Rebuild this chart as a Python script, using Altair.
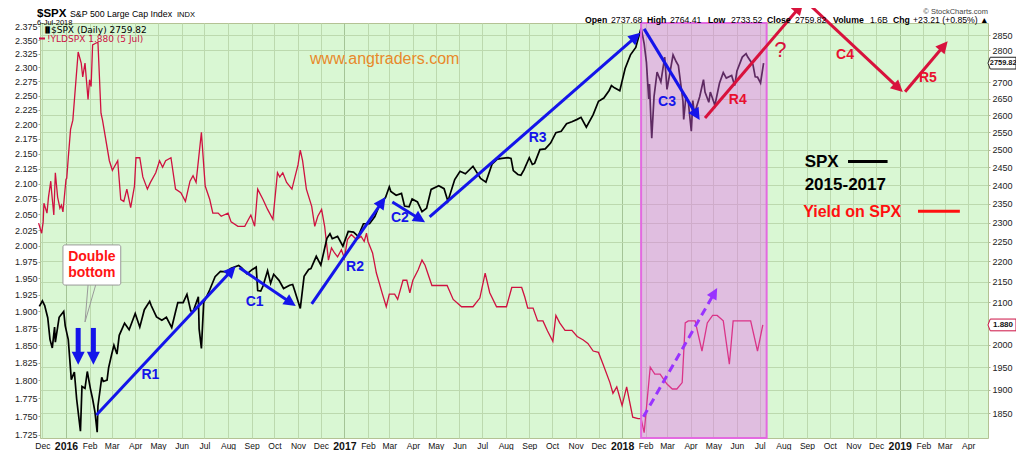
import math
import altair as alt
import pandas as pd

# ---------------- data ----------------
spx_dates = [
    "2015-11-27", "2015-12-01", "2015-12-04", "2015-12-08", "2015-12-11", "2015-12-14", "2015-12-17",
    "2015-12-18", "2015-12-23", "2015-12-29", "2015-12-31", "2016-01-04", "2016-01-08", "2016-01-12",
    "2016-01-15", "2016-01-20", "2016-01-22", "2016-01-26", "2016-01-29", "2016-02-02", "2016-02-05",
    "2016-02-08", "2016-02-11", "2016-02-12", "2016-02-17", "2016-02-19", "2016-02-24", "2016-02-26",
    "2016-03-01", "2016-03-04", "2016-03-08", "2016-03-11", "2016-03-18", "2016-03-24", "2016-04-01",
    "2016-04-07", "2016-04-13", "2016-04-20", "2016-04-22", "2016-04-29", "2016-05-06", "2016-05-12",
    "2016-05-19", "2016-05-24", "2016-05-27", "2016-06-03", "2016-06-08", "2016-06-13", "2016-06-16",
    "2016-06-23", "2016-06-24", "2016-06-27", "2016-06-30", "2016-07-08", "2016-07-15", "2016-07-22",
    "2016-07-29", "2016-08-05", "2016-08-15", "2016-08-19", "2016-08-26", "2016-09-02", "2016-09-07",
    "2016-09-09", "2016-09-13", "2016-09-16", "2016-09-22", "2016-09-26", "2016-09-30", "2016-10-07",
    "2016-10-13", "2016-10-21", "2016-10-25", "2016-10-28", "2016-11-04", "2016-11-09", "2016-11-15",
    "2016-11-18", "2016-11-25", "2016-12-01", "2016-12-09", "2016-12-13", "2016-12-16", "2016-12-23",
    "2016-12-30", "2017-01-06", "2017-01-13", "2017-01-19", "2017-01-26", "2017-02-03", "2017-02-10",
    "2017-02-17", "2017-02-24", "2017-03-01", "2017-03-03", "2017-03-10", "2017-03-17", "2017-03-21",
    "2017-03-27", "2017-03-31", "2017-04-07", "2017-04-13", "2017-04-19", "2017-04-25", "2017-05-05",
    "2017-05-12", "2017-05-17", "2017-05-26", "2017-06-02", "2017-06-09", "2017-06-19", "2017-06-29",
    "2017-07-06", "2017-07-14", "2017-07-21", "2017-07-27", "2017-08-04", "2017-08-08", "2017-08-11",
    "2017-08-17", "2017-08-21", "2017-08-25", "2017-09-01", "2017-09-05", "2017-09-08", "2017-09-15",
    "2017-09-22", "2017-09-29", "2017-10-06", "2017-10-13", "2017-10-20", "2017-10-27", "2017-11-03",
    "2017-11-08", "2017-11-15", "2017-11-24", "2017-12-01", "2017-12-08", "2017-12-15", "2017-12-18",
    "2017-12-22", "2017-12-29", "2018-01-05", "2018-01-12", "2018-01-19", "2018-01-26", "2018-01-30",
    "2018-02-02", "2018-02-05", "2018-02-06", "2018-02-08", "2018-02-09", "2018-02-12", "2018-02-16",
    "2018-02-21", "2018-02-26", "2018-03-01", "2018-03-02", "2018-03-09", "2018-03-13", "2018-03-16",
    "2018-03-22", "2018-03-23", "2018-03-26", "2018-03-29", "2018-04-02", "2018-04-04", "2018-04-06",
    "2018-04-13", "2018-04-18", "2018-04-20", "2018-04-25", "2018-04-27", "2018-05-03", "2018-05-09",
    "2018-05-14", "2018-05-18", "2018-05-25", "2018-05-29", "2018-06-01", "2018-06-08", "2018-06-13",
    "2018-06-15", "2018-06-22", "2018-06-25", "2018-06-28", "2018-07-02", "2018-07-06",
]
spx_close = [
    2090, 2103, 2092, 2063, 2012, 1993, 2041,
    2006, 2064, 2078, 2044, 2012, 1922, 1939,
    1880, 1812, 1907, 1903, 1940, 1903, 1880,
    1853, 1810, 1865, 1927, 1918, 1921, 1948,
    1978, 1999, 1979, 2022, 2050, 2035, 2073,
    2041, 2082, 2102, 2092, 2065, 2057, 2064,
    2040, 2077, 2099, 2099, 2119, 2079, 2077,
    2113, 2037, 1992, 2099, 2130, 2162, 2175,
    2174, 2183, 2190, 2184, 2169, 2180, 2186,
    2128, 2127, 2139, 2177, 2146, 2168, 2153,
    2133, 2141, 2143, 2126, 2085, 2163, 2180,
    2182, 2213, 2191, 2259, 2271, 2258, 2264,
    2239, 2277, 2275, 2264, 2297, 2297, 2316,
    2351, 2367, 2396, 2383, 2373, 2378, 2344,
    2342, 2363, 2355, 2329, 2338, 2389, 2399,
    2391, 2357, 2416, 2439, 2432, 2453, 2419,
    2409, 2459, 2473, 2475, 2477, 2475, 2441,
    2430, 2428, 2443, 2477, 2458, 2461, 2500,
    2502, 2519, 2549, 2553, 2575, 2581, 2588,
    2594, 2565, 2602, 2642, 2652, 2675, 2690,
    2683, 2674, 2743, 2786, 2810, 2873, 2822,
    2762, 2649, 2695, 2581, 2533, 2656, 2732,
    2701, 2779, 2678, 2691, 2786, 2765, 2752,
    2643, 2588, 2658, 2641, 2553, 2644, 2604,
    2656, 2708, 2670, 2639, 2670, 2630, 2697,
    2730, 2713, 2721, 2690, 2735, 2779, 2790,
    2780, 2755, 2717, 2716, 2698, 2760,
]

yld_dates = [
    "2015-11-26", "2015-11-30", "2015-12-02", "2015-12-03", "2015-12-07", "2015-12-09", "2015-12-12",
    "2015-12-13", "2015-12-16", "2015-12-18", "2015-12-21", "2015-12-24", "2015-12-26", "2015-12-28",
    "2016-01-01", "2016-01-02", "2016-01-04", "2016-01-07", "2016-01-10", "2016-01-17", "2016-01-21",
    "2016-01-23", "2016-01-26", "2016-01-30", "2016-02-01", "2016-02-03", "2016-02-05", "2016-02-09",
    "2016-02-12", "2016-02-16", "2016-02-18", "2016-02-27", "2016-03-02", "2016-03-09", "2016-03-13",
    "2016-03-17", "2016-03-21", "2016-03-26", "2016-03-31", "2016-04-02", "2016-04-07", "2016-04-11",
    "2016-04-17", "2016-04-21", "2016-04-28", "2016-05-03", "2016-05-07", "2016-05-11", "2016-05-18",
    "2016-05-24", "2016-05-31", "2016-06-06", "2016-06-12", "2016-06-16", "2016-06-20", "2016-06-27",
    "2016-06-30", "2016-07-02", "2016-07-08", "2016-07-12", "2016-07-19", "2016-07-23", "2016-08-01",
    "2016-08-05", "2016-08-14", "2016-08-23", "2016-08-31", "2016-09-05", "2016-09-09", "2016-09-16",
    "2016-09-22", "2016-09-29", "2016-10-05", "2016-10-08", "2016-10-12", "2016-10-17", "2016-10-24",
    "2016-10-28", "2016-11-01", "2016-11-04", "2016-11-07", "2016-11-12", "2016-11-19", "2016-11-23",
    "2016-11-27", "2016-12-02", "2016-12-06", "2016-12-09", "2016-12-11", "2016-12-15", "2016-12-19",
    "2016-12-23", "2016-12-28", "2017-01-01", "2017-01-05", "2017-01-10", "2017-01-17", "2017-01-23",
    "2017-01-27", "2017-01-30", "2017-02-01", "2017-02-07", "2017-02-12", "2017-02-16", "2017-02-20",
    "2017-02-25", "2017-03-01", "2017-03-08", "2017-03-12", "2017-03-19", "2017-03-24", "2017-03-28",
    "2017-04-01", "2017-04-08", "2017-04-13", "2017-04-17", "2017-04-26", "2017-05-16", "2017-05-24",
    "2017-06-04", "2017-06-19", "2017-06-28", "2017-07-05", "2017-07-11", "2017-07-20", "2017-08-02",
    "2017-08-09", "2017-08-22", "2017-08-26", "2017-08-30", "2017-09-06", "2017-09-12", "2017-09-19",
    "2017-09-25", "2017-10-02", "2017-10-06", "2017-10-11", "2017-10-18", "2017-10-27", "2017-11-03",
    "2017-11-11", "2017-11-17", "2017-11-24", "2017-12-01", "2017-12-07", "2017-12-16", "2017-12-20",
    "2017-12-25", "2018-01-01", "2018-01-07", "2018-01-15", "2018-01-22", "2018-01-26", "2018-01-30",
    "2018-02-07", "2018-02-13", "2018-02-20", "2018-03-01", "2018-03-08", "2018-03-14", "2018-03-21",
    "2018-03-25", "2018-03-29", "2018-04-07", "2018-04-16", "2018-04-23", "2018-04-30", "2018-05-06",
    "2018-05-14", "2018-05-22", "2018-05-27", "2018-06-19", "2018-06-28", "2018-07-05",
]
yld_values = [
    2.036, 2.020, 2.038, 2.068, 2.052, 2.078, 2.104,
    2.088, 2.049, 2.118, 2.078, 2.060, 2.065, 2.054,
    2.107, 2.109, 2.143, 2.191, 2.207, 2.328, 2.308,
    2.283, 2.308, 2.243, 2.278, 2.266, 2.341, 2.344,
    2.346, 2.219, 2.207, 2.138, 2.122, 2.138, 2.074,
    2.071, 2.091, 2.061, 2.096, 2.143, 2.143, 2.111,
    2.091, 2.102, 2.118, 2.138, 2.127, 2.138, 2.143,
    2.091, 2.085, 2.071, 2.104, 2.113, 2.102, 2.186,
    2.131, 2.096, 2.074, 2.052, 2.052, 2.047, 2.052,
    2.038, 2.031, 2.031, 2.049, 2.031, 2.091, 2.074,
    2.058, 2.042, 2.118, 2.111, 2.118, 2.102, 2.091,
    2.111, 2.131, 2.156, 2.138, 2.091, 2.063, 2.031,
    2.047, 2.058, 2.031, 1.999, 1.978, 1.997, 1.989,
    1.983, 1.994, 1.981, 2.010, 2.018, 2.010, 2.015,
    2.007, 2.020, 2.007, 1.989, 1.958, 1.942, 1.926,
    1.907, 1.926, 1.926, 1.918, 1.947, 1.947, 1.928,
    1.947, 1.963, 1.978, 1.970, 1.939, 1.939, 1.918,
    1.907, 1.907, 1.920, 1.958, 1.928, 1.907, 1.907,
    1.936, 1.936, 1.922, 1.905, 1.905, 1.886, 1.886,
    1.871, 1.856, 1.894, 1.883, 1.872, 1.872, 1.863,
    1.858, 1.853, 1.842, 1.840, 1.823, 1.797, 1.782,
    1.791, 1.765, 1.791, 1.749, 1.747, 1.747, 1.728,
    1.819, 1.809, 1.809, 1.795, 1.788, 1.788, 1.797,
    1.883, 1.886, 1.886, 1.842, 1.883, 1.894, 1.894,
    1.886, 1.823, 1.886, 1.886, 1.842, 1.880,
]

# annotation arrows: (start date, start SPX, tip date, tip SPX)
blue_arrows = [
    ("2016-02-10", 1846, "2016-08-11", 2188),
    ("2016-08-16", 2184, "2016-10-29", 2091),
    ("2016-11-19", 2096, "2017-02-24", 2368),
    ("2017-03-05", 2355, "2017-04-17", 2301),
    ("2017-04-23", 2315, "2018-01-25", 2857),
    ("2018-01-30", 2870, "2018-04-13", 2586),
]
red_arrows = [
    ("2018-04-20", 2592, "2018-08-27", 2956),
    ("2018-09-05", 2949, "2019-01-05", 2670),
    ("2019-01-08", 2671, "2019-03-05", 2830),
]
purple_arrows = [("2018-01-29", 1842, "2018-05-06", 2134)]
bottom_arrows = [
    ("2016-01-17", 2039, "2016-01-17", 1955),
    ("2016-02-06", 2039, "2016-02-06", 1955),
]

blue_labels = ["R1", "C1", "R2", "C2", "R3", "C3"]
blue_label_dates = ["2016-04-21", "2016-09-05", "2017-01-15", "2017-03-15", "2017-09-12", "2018-03-01"]
blue_label_values = [1932, 2100, 2186, 2312, 2534, 2640]
red_labels = ["R4", "C4", "R5"]
red_label_dates = ["2018-06-02", "2018-10-21", "2019-02-07"]
red_label_values = [2646, 2786, 2713]

pink_start, pink_end = "2018-01-26", "2018-07-10"
last_spx, last_yld = 2759.82, 1.880

# ---------------- geometry of the scales ----------------
W, H = 948, 415
T0 = pd.Timestamp("2015-11-27 20:00")
T1 = pd.Timestamp("2019-04-27 00:00")
SPX_LO, SPX_HI = 1798.0, 2889.4
YLD_LO, YLD_HI = 1.7207, 2.3815

FONT = "Liberation Sans"
BLUE = "#1414ea"
RED = "#d8123c"
PURPLE = "#9933ff"
HEAD = "M0,0 L0.5,1 L-0.5,1 Z"

x_scale = alt.Scale(
    type="utc",
    domain=[alt.DateTime(year=2015, month=11, date=27, hours=20, utc=True),
            alt.DateTime(year=2019, month=4, date=27, utc=True)],
)
month_ticks = []
for yy in range(2015, 2020):
    for mm in range(1, 13):
        if (yy, mm) >= (2015, 12) and (yy, mm) <= (2019, 4):
            month_ticks.append(alt.DateTime(year=yy, month=mm, date=1, utc=True))

is_year = "utcmonth(datum.value) == 0"
x_axis = alt.Axis(
    values=month_ticks,
    labelExpr=f"{is_year} ? utcFormat(datum.value, '%Y') : utcFormat(datum.value, '%b')",
    labelFontSize={"condition": {"test": is_year, "value": 10.5}, "value": 8.5},
    labelFontWeight={"condition": {"test": is_year, "value": "bold"}, "value": "normal"},
    labelColor="#111", labelFont=FONT, labelPadding=3, labelFlush=False, labelOverlap=False,
    grid=True, gridColor={"condition": {"test": is_year, "value": "#a4c496"}, "value": "#bcd9ae"},
    gridWidth=1, tickSize=0, domain=False, title=None,
)

# the 2050 and 2750 labels sit under the last-value tags, as in the reference
spx_ticks = [v for v in range(1850, 2851, 50) if v not in (2050, 2750)]
spx_scale = alt.Scale(type="log", domain=[SPX_LO, SPX_HI], nice=False)
spx_axis = alt.Axis(
    orient="right", values=spx_ticks, format="d",
    labelFontSize=9, labelFont=FONT, labelColor="#222", labelPadding=2, labelOverlap=False,
    labelFlush=False, tickSize=2, tickColor="#aab890", grid=True, gridColor="#bcd9ae",
    domain=False, title=None,
)
yld_scale = alt.Scale(type="log", domain=[YLD_LO, YLD_HI], nice=False)
yld_axis = alt.Axis(
    orient="left", values=[round(1.725 + 0.025 * i, 3) for i in range(27)], format=".3f",
    labelFontSize=9, labelFont=FONT, labelColor="#222", labelPadding=1, labelOverlap=False,
    labelFlush=False, tickSize=2, tickColor="#aab890", grid=False, domain=False, title=None,
)


def X(f):
    return alt.X(f"{f}:T", scale=x_scale, axis=x_axis)


def YS(f):
    return alt.Y(f"{f}:Q", scale=spx_scale, axis=spx_axis)


def iso(t):
    return pd.Timestamp(t).strftime("%Y-%m-%dT%H:%M:%SZ")


def arrow_df(arrows, r):
    lhi, llo = math.log(SPX_HI), math.log(SPX_LO)
    rows = []
    for d0, v0, d1, v1 in arrows:
        a, b = pd.Timestamp(d0), pd.Timestamp(d1)
        x0 = (a - T0) / (T1 - T0) * W
        x1 = (b - T0) / (T1 - T0) * W
        y0 = H * (lhi - math.log(v0)) / (lhi - llo)
        y1 = H * (lhi - math.log(v1)) / (lhi - llo)
        dx, dy = x1 - x0, y1 - y0
        L = math.hypot(dx, dy)
        k = max(0.0, 1 - 0.6 * r / L)
        ts = a + (b - a) * k
        vs = math.exp(math.log(v0) + (math.log(v1) - math.log(v0)) * k)
        ang = math.degrees(math.atan2(dx, -dy)) % 360
        rows.append({"date": iso(a), "v": v0, "date2": iso(ts), "v2": vs,
                     "tipd": iso(b), "tipv": v1, "ang": ang})
    return pd.DataFrame(rows)


def arrow_layers(arrows, color, width, r, dash=None):
    df = arrow_df(arrows, r)
    kw = {"strokeDash": dash} if dash else {}
    shaft = alt.Chart(df).mark_rule(color=color, strokeWidth=width, **kw).encode(
        x=X("date"), x2=alt.X2("date2"), y=YS("v"), y2=alt.Y2("v2"))
    head = alt.Chart(df).mark_point(shape=HEAD, filled=True, size=(2 * r) ** 2, color=color,
                                    opacity=1, strokeWidth=0).encode(
        x=X("tipd"), y=YS("tipv"), angle=alt.Angle("ang:Q", scale=None))
    return [shaft, head]


def data_text(labels, dates, values, **mk):
    df = pd.DataFrame({"date": dates, "v": values, "label": labels})
    return alt.Chart(df).mark_text(**mk).encode(x=X("date"), y=YS("v"), text="label:N")


def px_text(label, x, y, **mk):
    return alt.Chart(pd.DataFrame({"label": [label]})).mark_text(**mk).encode(
        x=alt.value(x), y=alt.value(y), text="label:N")


# ---------------- yield (left axis) ----------------
yld_df = pd.DataFrame({"date": yld_dates, "val": yld_values})
yld_line = alt.Chart(yld_df).mark_line(color="#cf1140", strokeWidth=1.3).encode(
    x=X("date"), y=alt.Y("val:Q", scale=yld_scale, axis=yld_axis))
yld_tag_df = pd.DataFrame({"val": [last_yld], "label": [f"{last_yld:.3f}"]})
TAG = "M-1,0 L-0.84,-0.42 L1,-0.42 L1,0.42 L-0.84,0.42 Z"
TAG_X = 962
yld_tag = alt.Chart(yld_tag_df).mark_point(shape=TAG, size=784, filled=True, fill="white",
                                           stroke="#cc1144", strokeWidth=1, opacity=1).encode(
    x=alt.value(TAG_X), y=alt.Y("val:Q", scale=yld_scale, axis=yld_axis))
yld_tag_txt = alt.Chart(yld_tag_df).mark_text(font=FONT, fontSize=8, fontWeight="bold",
                                              color="#111", dx=1).encode(
    x=alt.value(TAG_X), y=alt.Y("val:Q", scale=yld_scale, axis=yld_axis), text="label:N")
yld_group = alt.layer(yld_line, yld_tag, yld_tag_txt)

# ---------------- SPX (right axis) ----------------
spx_df = pd.DataFrame({"date": spx_dates, "v": spx_close})
spx_line = alt.Chart(spx_df).mark_line(color="#000000", strokeWidth=1.7).encode(
    x=X("date"), y=YS("v"))

pink = alt.Chart(pd.DataFrame({"date": [pink_start], "date2": [pink_end]})).mark_rect(
    fill="#eb69f4", fillOpacity=0.4, stroke="#e36ae0", strokeWidth=2, strokeOpacity=1).encode(
    x=X("date"), x2=alt.X2("date2"))

# double bottom callout
box_df = pd.DataFrame({"date": ["2015-12-28"], "date2": ["2016-03-13"], "v": [2242], "v2": [2141.5]})
box_shadow = alt.Chart(box_df).mark_rect(fill="#b8b8b8", xOffset=2, yOffset=2, cornerRadius=2).encode(
    x=X("date"), x2=alt.X2("date2"), y=YS("v"), y2=alt.Y2("v2"))
box = alt.Chart(box_df).mark_rect(fill="white", stroke="#9a9a9a", strokeWidth=1, cornerRadius=2).encode(
    x=X("date"), x2=alt.X2("date2"), y=YS("v"), y2=alt.Y2("v2"))
tail_df = pd.DataFrame({"date": ["2016-01-30", "2016-02-09"], "v": [2141.5, 2141.5],
                        "date2": ["2016-01-26", "2016-01-26"], "v2": [2053, 2053]})
tail = alt.Chart(tail_df).mark_rule(color="#9a9a9a", strokeWidth=1).encode(
    x=X("date"), x2=alt.X2("date2"), y=YS("v"), y2=alt.Y2("v2"))
box_txt = data_text(["Double", "bottom"], ["2016-02-04", "2016-02-04"], [2211, 2171],
                    font=FONT, fontSize=14, fontWeight="bold", color="#ff1414")

blue_txt = data_text(blue_labels, blue_label_dates, blue_label_values,
                     font=FONT, fontSize=14, fontWeight="bold", color=BLUE)
red_txt = data_text(red_labels, red_label_dates, red_label_values,
                    font=FONT, fontSize=14, fontWeight="bold", color="#e8102e")
qmark = data_text(["?"], ["2018-07-28"], [2801], font=FONT, fontSize=22, color=RED)
site = data_text(["www.angtraders.com"], ["2017-02-23"], [2773], font=FONT, fontSize=16,
                 color="#e8892a")
leg_spx = data_text(["SPX", "2015-2017"], ["2018-08-29", "2018-08-29"], [2465, 2401],
                    font=FONT, fontSize=17, fontWeight="bold", color="#000", align="left")
leg_yld = data_text(["Yield on SPX"], ["2018-08-27"], [2329], font=FONT, fontSize=16,
                    fontWeight="bold", color="#ff1010", align="left")
seg_df = pd.DataFrame({"date": ["2018-10-25", "2019-01-25"], "date2": ["2018-12-16", "2019-03-21"],
                       "v": [2466, 2330], "c": ["k", "r"]})
segs = alt.Chart(seg_df).mark_rule(strokeWidth=3).encode(
    x=X("date"), x2=alt.X2("date2"), y=YS("v"),
    color=alt.Color("c:N", scale=alt.Scale(domain=["k", "r"], range=["#000000", "#ff1010"]), legend=None))

spx_tag_df = pd.DataFrame({"v": [last_spx], "label": [f"{last_spx:.2f}"]})
spx_tag = alt.Chart(spx_tag_df).mark_point(shape=TAG, size=784, filled=True, fill="white",
                                           stroke="#222", strokeWidth=1, opacity=1).encode(
    x=alt.value(TAG_X), y=YS("v"))
spx_tag_txt = alt.Chart(spx_tag_df).mark_text(font=FONT, fontSize=7.4, fontWeight="bold",
                                              color="#111", dx=1.2).encode(
    x=alt.value(TAG_X), y=YS("v"), text="label:N")

# header and in-plot legend (pixel layout outside the data space)
hdr = [
    px_text("$SPX", -3, -6, font=FONT, fontSize=11.5, fontWeight="bold", align="left",
            baseline="alphabetic", color="#000"),
    px_text("S&P 500 Large Cap Index", 30, -6, font=FONT, fontSize=8.8, align="left",
            baseline="alphabetic", color="#000"),
    px_text("INDX", 137, -6, font=FONT, fontSize=7.5, align="left", baseline="alphabetic",
            color="#000"),
    px_text("6-Jul-2018", -3, 1.5, font=FONT, fontSize=7.5, align="left", baseline="alphabetic",
            color="#000"),
    px_text("\u00a9 StockCharts.com", 948, -9.5, font=FONT, fontSize=7.5, align="right",
            baseline="alphabetic", color="#444"),
    px_text("$SPX (Daily) 2759.82", 11, 6.5, font="DejaVu Sans", fontSize=9, align="left",
            baseline="middle", color="#000"),
    px_text("!YLDSPX 1.880 (5 Jul)", 7, 15.5, font="DejaVu Sans", fontSize=9, align="left",
            baseline="middle", color="#cc1144"),
]
tokens = [("Open", 585, True), ("2737.68", 611, False), ("High", 647, True), ("2764.41", 670, False),
          ("Low", 708, True), ("2733.52", 731, False), ("Close", 767, True), ("2759.82", 795, False),
          ("Volume", 833, True), ("1.6B", 870, False), ("Chg", 893, True),
          ("+23.21 (+0.85%)", 913, False), ("\u25b2", 980, False)]
for txt, xa, bold in tokens:
    hdr.append(px_text(txt, xa - 40, 0, font=FONT, fontSize=8.7, align="left", baseline="alphabetic",
                       fontWeight="bold" if bold else "normal", color="#000"))
leg_dash = alt.Chart(pd.DataFrame({"a": [0]})).mark_rule(color="#cc1144", strokeWidth=2).encode(
    x=alt.value(-1), x2=alt.value(5), y=alt.value(15.5))
icon = px_text("\u2590\u258c", 3, 6.5, font="DejaVu Sans", fontSize=6, align="left",
               baseline="middle", color="#000")

spx_layers = [spx_line, pink]
spx_layers += arrow_layers(bottom_arrows, BLUE, 5, 13)
spx_layers += arrow_layers(blue_arrows, BLUE, 3, 12)
spx_layers += arrow_layers(red_arrows, RED, 3, 12)
spx_layers += arrow_layers(purple_arrows, PURPLE, 3, 11, dash=[8, 5])
spx_layers += [box_shadow, box, tail, box_txt, blue_txt, red_txt, qmark, site, leg_spx, leg_yld,
               segs, spx_tag, spx_tag_txt, leg_dash, icon] + hdr
spx_group = alt.layer(*spx_layers)

chart = alt.layer(yld_group, spx_group).resolve_scale(y="independent").properties(
    width=W, height=H,
    padding={"left": 32, "top": 15, "right": 28, "bottom": 12},
    autosize=alt.AutoSizeParams(type="none"),
    background="white",
).configure_view(fill="#d9f7d3", stroke="#b4c294", strokeWidth=1)

chart.save("out.html", embed_options={"renderer": "svg", "actions": False})
